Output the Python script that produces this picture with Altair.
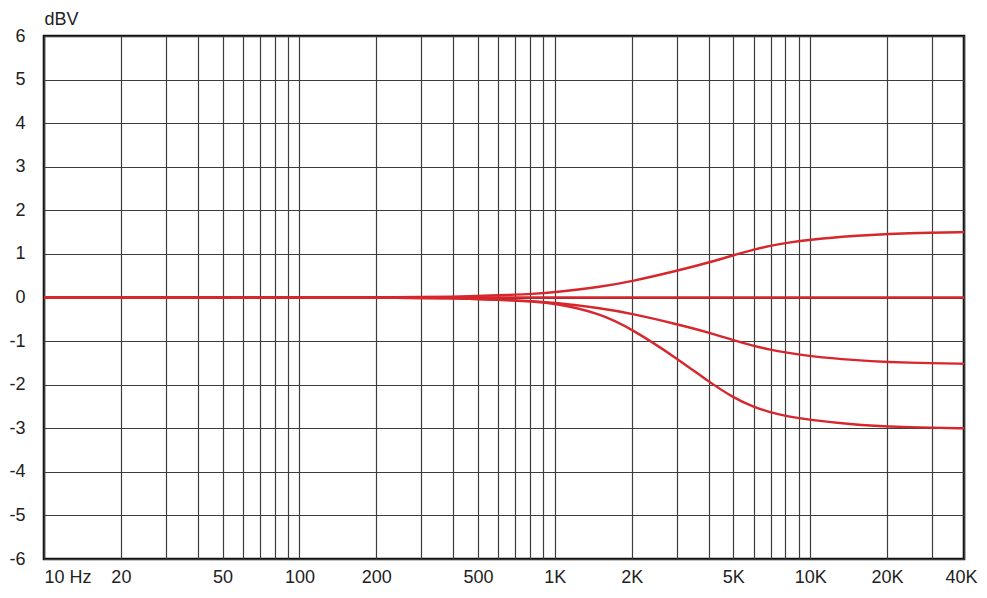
import altair as alt
import pandas as pd

freqs = [10, 100, 200, 300, 400, 500, 600, 700, 800, 1000, 1500, 2000, 3000,
         4000, 5000, 6000, 7000, 8000, 10000, 15000, 20000, 30000, 40000]

flat = [0, 0, 0, 0, 0, 0, 0, 0, 0, 0, 0, 0, 0, 0, 0, 0, 0, 0, 0, 0, 0, 0, 0]
boost = [0, 0, 0, 0.01, 0.02, 0.035, 0.05, 0.065, 0.08, 0.12, 0.24, 0.37, 0.61,
         0.80, 0.97, 1.10, 1.19, 1.25, 1.33, 1.42, 1.46, 1.49, 1.50]
cut_15 = [0, 0, 0, -0.01, -0.02, -0.035, -0.05, -0.065, -0.08, -0.12, -0.24, -0.37, -0.61,
          -0.80, -0.98, -1.11, -1.20, -1.26, -1.35, -1.44, -1.48, -1.51, -1.52]
cut_3 = [0, 0, 0, -0.01, -0.02, -0.035, -0.05, -0.07, -0.09, -0.13, -0.36, -0.72, -1.39,
         -1.93, -2.30, -2.51, -2.64, -2.72, -2.81, -2.92, -2.96, -2.99, -3.00]

series_names = ["flat", "boost", "cut 1.5", "cut 3"]
series_values = [flat, boost, cut_15, cut_3]

# Axis gridlines and labels
grid_freqs = [10, 20, 30, 40, 50, 60, 70, 80, 90,
              100, 200, 300, 400, 500, 600, 700, 800, 900,
              1000, 2000, 3000, 4000, 5000, 6000, 7000, 8000, 9000,
              10000, 20000, 30000, 40000]
label_freqs = [10, 20, 50, 100, 200, 500, 1000, 2000, 5000, 10000, 20000, 40000]
label_texts = ["10 Hz", "20", "50", "100", "200", "500", "1K", "2K", "5K", "10K", "20K", "40K"]
y_ticks = [-6, -5, -4, -3, -2, -1, 0, 1, 2, 3, 4, 5, 6]

rows = []
for name, vals in zip(series_names, series_values):
    for f, v in zip(freqs, vals):
        rows.append({"series": name, "freq": f, "dbv": v})
df = pd.DataFrame(rows)

label_expr = "".join(
    f"datum.value == {f} ? '{t}' : " for f, t in zip(label_freqs, label_texts)
) + "''"

FONT = "Liberation Sans"
RED = "#d7262c"
GRID = "#3c3c3c"
TEXT = "#222222"

chart = alt.Chart(df).mark_line(
    color=RED, strokeWidth=2.4, interpolate="basis", clip=True
).encode(
    x=alt.X(
        "freq:Q",
        scale=alt.Scale(type="log", domain=[10, 40000], nice=False),
        axis=alt.Axis(
            values=grid_freqs,
            labelExpr=label_expr,
            grid=True,
            gridColor=GRID,
            gridWidth=1.2,
            gridOpacity=1,
            ticks=False,
            domain=False,
            labelPadding=9,
            labelFontSize=18,
            labelFont=FONT,
            labelColor=TEXT,
            labelFlush=False,
            labelOverlap=False,
            labelAlign={"condition": {"test": "datum.value == 10", "value": "left"}, "value": "center"},
            labelOffset={"condition": {"test": "datum.value == 40000", "value": -3}, "value": 0},
            title=None,
        ),
    ),
    y=alt.Y(
        "dbv:Q",
        scale=alt.Scale(domain=[-6, 6], nice=False),
        axis=alt.Axis(
            values=y_ticks,
            labelExpr="'' + datum.value",
            grid=True,
            gridColor=GRID,
            gridWidth=1.2,
            gridOpacity=1,
            ticks=False,
            domain=False,
            labelPadding=19,
            labelFontSize=18,
            labelFont=FONT,
            labelColor=TEXT,
            labelOverlap=False,
            title="dBV",
            titleAngle=0,
            titleX=0,
            titleY=-12,
            titleAlign="left",
            titleBaseline="alphabetic",
            titleFont=FONT,
            titleFontSize=18,
            titleFontWeight="normal",
            titleColor=TEXT,
        ),
    ),
    detail="series:N",
).properties(
    width=920,
    height=523,
    autosize=alt.AutoSizeParams(type="none"),
    padding={"left": 36, "top": 28, "right": 15, "bottom": 31},
    background="white",
).configure_view(
    stroke="#111111",
    strokeWidth=2.6,
)

chart.save("out.html", embed_options={"renderer": "svg", "actions": False})
